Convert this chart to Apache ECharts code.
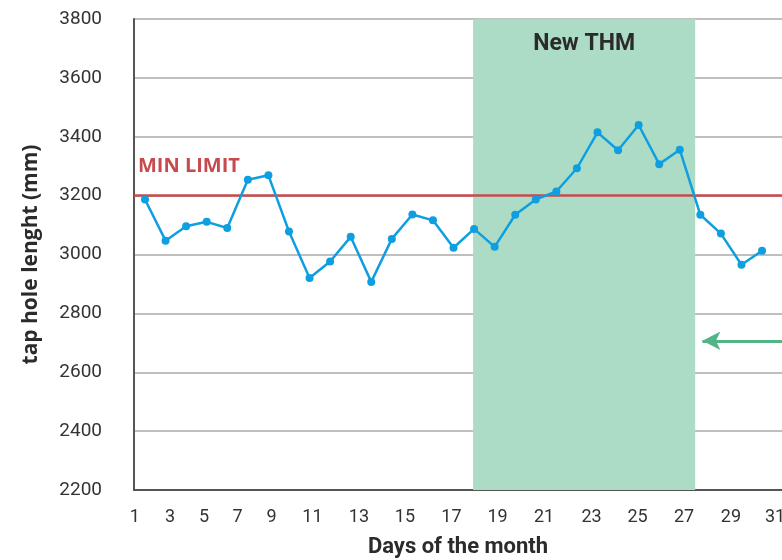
<!DOCTYPE html>
<html>
<head>
<meta charset="utf-8">
<script src="https://cdn.jsdelivr.net/npm/echarts@6/dist/echarts.min.js"></script>
<style>
  html, body { margin: 0; padding: 0; background: #fff; }
  #chart { width: 782px; height: 560px; }
</style>
</head>
<body>
<div id="chart"></div>
<script>
// daily tap hole length (mm), days 1..31
const days = [1, 2, 3, 4, 5, 6, 7, 8, 9, 10, 11, 12, 13, 14, 15, 16,
  17, 18, 19, 20, 21, 22, 23, 24, 25, 26, 27, 28, 29, 30, 31];
const lengths = [3187, 3047, 3096, 3111, 3090, 3254, 3269, 3078, 2920, 2976,
  3060, 2907, 3053, 3136, 3116, 3023, 3087, 3026, 3135, 3187, 3214, 3293,
  3415, 3354, 3440, 3307, 3356, 3135, 3071, 2965, 3013];

// x tick labels and where they sit on the day scale
const tickLabels = ['1', '3', '5', '7', '9', '11', '13', '15', '17', '19',
  '21', '23', '25', '27', '29', '31'];
const tickAt = [0.51, 2.22, 3.87, 5.5, 7.15, 9.14, 11.4, 13.64, 15.9, 18.14,
  20.4, 22.71, 24.95, 27.21, 29.49, 31.63];

const minLimit = 3200;
const thmPeriod = [16.95, 27.75];
const arrowAt = [28.1, 2707];

const chart = echarts.init(document.getElementById('chart'));

function tickText(v) {
  let best = 0;
  tickAt.forEach((t, i) => {
    if (Math.abs(t - v) < Math.abs(tickAt[best] - v)) best = i;
  });
  return tickLabels[best];
}

const option = {
  animation: false,
  textStyle: { fontFamily: 'Roboto' },
  grid: { left: 134, right: 0, top: 19, bottom: 70, outerBoundsMode: 'none', containLabel: false },
  xAxis: {
    type: 'value',
    min: 0.465,
    max: 31.97,
    name: 'Days of the month',
    nameLocation: 'middle',
    nameGap: 46,
    nameTextStyle: { fontSize: 22, fontWeight: 'bold', color: '#2b2b2b' },
    axisLine: { show: true, lineStyle: { color: '#555', width: 2 } },
    axisTick: { show: false, customValues: tickAt },
    splitLine: { show: false },
    axisLabel: {
      customValues: tickAt,
      showMinLabel: true,
      showMaxLabel: true,
      hideOverlap: false,
      formatter: (v) => tickText(v),
      fontSize: 18,
      color: '#333',
      margin: 18
    }
  },
  yAxis: {
    type: 'value',
    min: 2200,
    max: 3800,
    interval: 200,
    name: 'tap hole lenght (mm)',
    nameLocation: 'middle',
    nameGap: 92,
    nameTextStyle: { fontSize: 21, fontWeight: 'bold', fontFamily: 'Open Sans', color: '#2b2b2b' },
    axisLine: { show: true, lineStyle: { color: '#555', width: 2 } },
    axisTick: { show: false },
    axisLabel: { fontSize: 19, color: '#333', margin: 32, formatter: (v) => String(v) },
    splitLine: { lineStyle: { color: '#aaa', width: 1.5 } }
  },
  series: [{
    type: 'line',
    data: days.map((d, i) => [d, lengths[i]]),
    symbol: 'circle',
    symbolSize: 8,
    z: 5,
    lineStyle: { color: '#0f9fe0', width: 2.5 },
    itemStyle: { color: '#0f9fe0' },
    markArea: {
      silent: true,
      itemStyle: { color: '#acdcc5' },
      label: {
        show: true,
        position: 'insideTop',
        distance: 14,
        formatter: 'New THM',
        fontSize: 23,
        fontWeight: 'bold',
        color: '#2b2b2b'
      },
      data: [[{ xAxis: thmPeriod[0] }, { xAxis: thmPeriod[1] }]]
    },
    markLine: {
      silent: true,
      animation: false,
      symbol: 'none',
      data: [
        {
          yAxis: minLimit,
          symbol: 'none',
          lineStyle: { color: '#c94a4e', width: 2.5, type: 'solid' },
          label: {
            show: true,
            position: 'insideStartTop',
            formatter: 'MIN LIMIT',
            distance: [4, 19],
            fontSize: 20,
            fontWeight: 'bold',
            fontFamily: 'Open Sans',
            color: '#c94a4e'
          }
        },
        [
          {
            coord: arrowAt,
            symbol: 'arrow',
            symbolSize: [14, 18],
            lineStyle: { color: '#52b487', width: 3, type: 'solid' },
            label: { show: false }
          },
          { coord: [31.97, arrowAt[1]], symbol: 'none' }
        ]
      ]
    }
  }]
};

chart.setOption(option);
</script>
</body>
</html>
